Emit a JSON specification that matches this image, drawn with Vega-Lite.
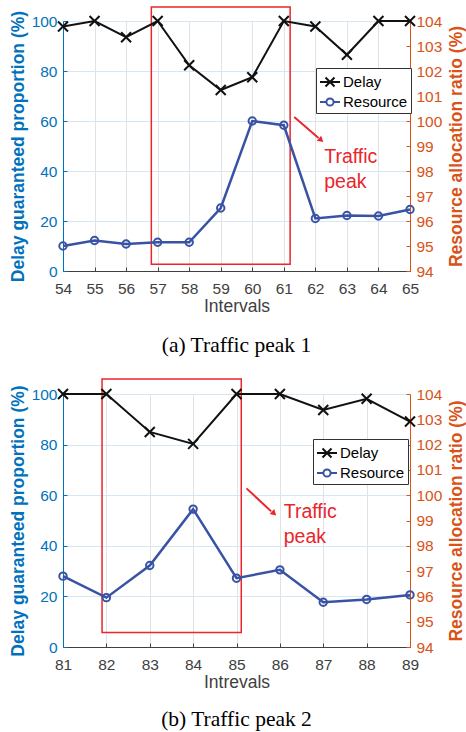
{
  "$schema": "https://vega.github.io/schema/vega-lite/v6.json",
  "padding": {"left": 9, "top": 6, "right": 0, "bottom": 0},
  "background": "white",
  "datasets": {
    "a_lines": [
      {"x": 54, "y": 97.8, "series": "Delay"}, {"x": 55, "y": 100, "series": "Delay"}, {"x": 56, "y": 93.5, "series": "Delay"},
      {"x": 57, "y": 100, "series": "Delay"}, {"x": 58, "y": 82.3, "series": "Delay"}, {"x": 59, "y": 72.4, "series": "Delay"},
      {"x": 60, "y": 77.5, "series": "Delay"}, {"x": 61, "y": 100, "series": "Delay"}, {"x": 62, "y": 97.8, "series": "Delay"},
      {"x": 63, "y": 86.5, "series": "Delay"}, {"x": 64, "y": 100, "series": "Delay"}, {"x": 65, "y": 100, "series": "Delay"},
      {"x": 54, "y": 95.0, "series": "Resource"}, {"x": 55, "y": 95.22, "series": "Resource"}, {"x": 56, "y": 95.08, "series": "Resource"},
      {"x": 57, "y": 95.15, "series": "Resource"}, {"x": 58, "y": 95.15, "series": "Resource"}, {"x": 59, "y": 96.52, "series": "Resource"},
      {"x": 60, "y": 100.0, "series": "Resource"}, {"x": 61, "y": 99.83, "series": "Resource"}, {"x": 62, "y": 96.1, "series": "Resource"},
      {"x": 63, "y": 96.22, "series": "Resource"}, {"x": 64, "y": 96.2, "series": "Resource"}, {"x": 65, "y": 96.46, "series": "Resource"}
    ],
    "a_box": [{"x": 56.8, "x2": 61.2, "y": 2.7, "y2": 105.6}],
    "a_arrow": [{"x": 61.33, "y": 61.6, "x2": 62.1, "y2": 53.2}],
    "a_head": [{"x": 62.16, "y": 52.6}],
    "a_text": [{"x": 62.28, "y": 45.6, "label": "Traffic"}, {"x": 62.28, "y": 35.6, "label": "peak"}],
    "b_lines": [
      {"x": 81, "y": 100, "series": "Delay"}, {"x": 82, "y": 100, "series": "Delay"}, {"x": 83, "y": 85, "series": "Delay"},
      {"x": 84, "y": 80.3, "series": "Delay"}, {"x": 85, "y": 100, "series": "Delay"}, {"x": 86, "y": 100, "series": "Delay"},
      {"x": 87, "y": 93.7, "series": "Delay"}, {"x": 88, "y": 98.1, "series": "Delay"}, {"x": 89, "y": 89.1, "series": "Delay"},
      {"x": 81, "y": 96.8, "series": "Resource"}, {"x": 82, "y": 95.95, "series": "Resource"}, {"x": 83, "y": 97.22, "series": "Resource"},
      {"x": 84, "y": 99.45, "series": "Resource"}, {"x": 85, "y": 96.72, "series": "Resource"}, {"x": 86, "y": 97.05, "series": "Resource"},
      {"x": 87, "y": 95.77, "series": "Resource"}, {"x": 88, "y": 95.88, "series": "Resource"}, {"x": 89, "y": 96.06, "series": "Resource"}
    ],
    "b_box": [{"x": 81.9, "x2": 85.11, "y": 5.7, "y2": 105.9}],
    "b_arrow": [{"x": 85.23, "y": 62.7, "x2": 85.8, "y2": 53.6}],
    "b_head": [{"x": 85.85, "y": 53.0}],
    "b_text": [{"x": 86.09, "y": 53.4, "label": "Traffic"}, {"x": 86.09, "y": 43.5, "label": "peak"}]
  },
  "vconcat": [
    {
      "width": 347,
      "height": 250,
      "title": {"text": "(a)  Traffic peak 1", "orient": "bottom", "anchor": "middle", "font": "Liberation Serif", "fontSize": 21.5, "fontWeight": "normal", "color": "#000000", "offset": 20},
      "encoding": {
        "x": {"field": "x", "type": "quantitative", "scale": {"domain": [54, 65], "nice": false, "zero": false},
          "axis": {"title": "Intervals", "values": [54, 55, 56, 57, 58, 59, 60, 61, 62, 63, 64, 65], "labelColor": "#404040", "titleColor": "#404040", "domainColor": "#404040", "tickColor": "#404040", "gridColor": "#e2e2e2", "titleFontWeight": "normal", "labelPadding": 14, "titlePadding": 1}}
      },
      "layer": [
        {
          "encoding": {
            "y": {"field": "y", "type": "quantitative", "scale": {"domain": [0, 100], "nice": false},
              "axis": {"orient": "left", "title": "Delay guaranteed proportion (%)", "values": [0, 20, 40, 60, 80, 100], "titleColor": "#0072BD", "labelColor": "#0072BD", "domainColor": "#0072BD", "tickColor": "#0072BD", "gridColor": "#d5e7f5", "titleFontWeight": "bold", "labelPadding": 10, "titlePadding": 4}}
          },
          "layer": [
            {
              "data": {"name": "a_box"},
              "mark": {"type": "rect", "filled": false, "stroke": "#E8262B", "strokeWidth": 1.5, "clip": false},
              "encoding": {"x2": {"field": "x2"}, "y2": {"field": "y2"}}
            },
            {
              "data": {"name": "a_lines"},
              "transform": [{"filter": "datum.series === 'Delay'"}],
              "mark": {"type": "line", "strokeWidth": 2},
              "encoding": {
                "color": {"field": "series", "type": "nominal", "scale": {"domain": ["Delay", "Resource"], "range": ["#111111", "#3953A4"]},
                  "legend": {"orient": "none", "legendX": 253, "legendY": 47, "title": null,
                    "encode": {"symbols": {"update": {"shape": {"signal": "datum.value === 'Delay' ? 'M-0.45,-0.45L0.45,0.45M-0.45,0.45L0.45,-0.45M-1,0L1,0' : 'M-1,0L-0.36,0M0.36,0L1,0M-0.36,0A0.36,0.36,0,1,1,0.36,0A0.36,0.36,0,1,1,-0.36,0'"}, "fill": {"value": "transparent"}}}}}}
              }
            },
            {
              "data": {"name": "a_lines"},
              "transform": [{"filter": "datum.series === 'Delay'"}],
              "mark": {"type": "point", "shape": "M-1,-1L1,1M-1,1L1,-1", "filled": false, "stroke": "#111111", "strokeWidth": 2, "size": 100, "opacity": 1}
            },
            {
              "data": {"name": "a_arrow"},
              "mark": {"type": "rule", "color": "#E8262B", "strokeWidth": 2},
              "encoding": {"x2": {"field": "x2"}, "y2": {"field": "y2"}}
            },
            {
              "data": {"name": "a_head"},
              "mark": {"type": "point", "shape": "triangle", "filled": true, "color": "#E8262B", "size": 45, "angle": 131, "opacity": 1}
            },
            {
              "data": {"name": "a_text"},
              "mark": {"type": "text", "align": "left", "baseline": "middle", "font": "Liberation Sans", "fontSize": 19.5, "color": "#E8262B"},
              "encoding": {"text": {"field": "label"}}
            }
          ]
        },
        {
          "encoding": {
            "y": {"field": "y", "type": "quantitative", "scale": {"domain": [94, 104], "nice": false, "zero": false},
              "axis": {"orient": "right", "title": "Resource allocation ratio (%)", "titleAngle": 270, "titleBaseline": "top", "values": [94, 95, 96, 97, 98, 99, 100, 101, 102, 103, 104], "grid": false, "titleColor": "#D95319", "labelColor": "#D95319", "domainColor": "#D95319", "tickColor": "#D95319", "titleFontWeight": "bold", "labelPadding": 10, "titlePadding": 6}}
          },
          "layer": [
            {
              "data": {"name": "a_lines"},
              "transform": [{"filter": "datum.series === 'Resource'"}],
              "mark": {"type": "line", "strokeWidth": 2.5},
              "encoding": {
                "color": {"field": "series", "type": "nominal", "scale": {"domain": ["Delay", "Resource"], "range": ["#111111", "#3953A4"]},
                  "legend": {"orient": "none", "legendX": 253, "legendY": 47, "title": null,
                    "encode": {"symbols": {"update": {"shape": {"signal": "datum.value === 'Delay' ? 'M-0.45,-0.45L0.45,0.45M-0.45,0.45L0.45,-0.45M-1,0L1,0' : 'M-1,0L-0.36,0M0.36,0L1,0M-0.36,0A0.36,0.36,0,1,1,0.36,0A0.36,0.36,0,1,1,-0.36,0'"}, "fill": {"value": "transparent"}}}}}}
              }
            },
            {
              "data": {"name": "a_lines"},
              "transform": [{"filter": "datum.series === 'Resource'"}],
              "mark": {"type": "point", "shape": "circle", "filled": false, "stroke": "#3953A4", "strokeWidth": 2, "size": 55, "opacity": 1}
            }
          ]
        }
      ],
      "resolve": {"scale": {"y": "independent"}}
    },
    {
      "width": 347,
      "height": 253,
      "title": {"text": "(b)  Traffic peak 2", "orient": "bottom", "anchor": "middle", "font": "Liberation Serif", "fontSize": 21.5, "fontWeight": "normal", "color": "#000000", "offset": 18},
      "encoding": {
        "x": {"field": "x", "type": "quantitative", "scale": {"domain": [81, 89], "nice": false, "zero": false},
          "axis": {"title": "Intrevals", "values": [81, 82, 83, 84, 85, 86, 87, 88, 89], "labelColor": "#404040", "titleColor": "#404040", "domainColor": "#404040", "tickColor": "#404040", "gridColor": "#e2e2e2", "titleFontWeight": "normal", "labelPadding": 14, "titlePadding": 1}}
      },
      "layer": [
        {
          "encoding": {
            "y": {"field": "y", "type": "quantitative", "scale": {"domain": [0, 100], "nice": false},
              "axis": {"orient": "left", "title": "Delay guaranteed proportion (%)", "values": [0, 20, 40, 60, 80, 100], "titleColor": "#0072BD", "labelColor": "#0072BD", "domainColor": "#0072BD", "tickColor": "#0072BD", "gridColor": "#d5e7f5", "titleFontWeight": "bold", "labelPadding": 10, "titlePadding": 4}}
          },
          "layer": [
            {
              "data": {"name": "b_box"},
              "mark": {"type": "rect", "filled": false, "stroke": "#E8262B", "strokeWidth": 1.5, "clip": false},
              "encoding": {"x2": {"field": "x2"}, "y2": {"field": "y2"}}
            },
            {
              "data": {"name": "b_lines"},
              "transform": [{"filter": "datum.series === 'Delay'"}],
              "mark": {"type": "line", "strokeWidth": 2},
              "encoding": {
                "color": {"field": "series", "type": "nominal", "scale": {"domain": ["Delay", "Resource"], "range": ["#111111", "#3953A4"]},
                  "legend": {"orient": "none", "legendX": 250, "legendY": 45, "title": null,
                    "encode": {"symbols": {"update": {"shape": {"signal": "datum.value === 'Delay' ? 'M-0.45,-0.45L0.45,0.45M-0.45,0.45L0.45,-0.45M-1,0L1,0' : 'M-1,0L-0.36,0M0.36,0L1,0M-0.36,0A0.36,0.36,0,1,1,0.36,0A0.36,0.36,0,1,1,-0.36,0'"}, "fill": {"value": "transparent"}}}}}}
              }
            },
            {
              "data": {"name": "b_lines"},
              "transform": [{"filter": "datum.series === 'Delay'"}],
              "mark": {"type": "point", "shape": "M-1,-1L1,1M-1,1L1,-1", "filled": false, "stroke": "#111111", "strokeWidth": 2, "size": 100, "opacity": 1}
            },
            {
              "data": {"name": "b_arrow"},
              "mark": {"type": "rule", "color": "#E8262B", "strokeWidth": 2},
              "encoding": {"x2": {"field": "x2"}, "y2": {"field": "y2"}}
            },
            {
              "data": {"name": "b_head"},
              "mark": {"type": "point", "shape": "triangle", "filled": true, "color": "#E8262B", "size": 45, "angle": 132, "opacity": 1}
            },
            {
              "data": {"name": "b_text"},
              "mark": {"type": "text", "align": "left", "baseline": "middle", "font": "Liberation Sans", "fontSize": 19.5, "color": "#E8262B"},
              "encoding": {"text": {"field": "label"}}
            }
          ]
        },
        {
          "encoding": {
            "y": {"field": "y", "type": "quantitative", "scale": {"domain": [94, 104], "nice": false, "zero": false},
              "axis": {"orient": "right", "title": "Resource allocation ratio (%)", "titleAngle": 270, "titleBaseline": "top", "values": [94, 95, 96, 97, 98, 99, 100, 101, 102, 103, 104], "grid": false, "titleColor": "#D95319", "labelColor": "#D95319", "domainColor": "#D95319", "tickColor": "#D95319", "titleFontWeight": "bold", "labelPadding": 10, "titlePadding": 6}}
          },
          "layer": [
            {
              "data": {"name": "b_lines"},
              "transform": [{"filter": "datum.series === 'Resource'"}],
              "mark": {"type": "line", "strokeWidth": 2.5},
              "encoding": {
                "color": {"field": "series", "type": "nominal", "scale": {"domain": ["Delay", "Resource"], "range": ["#111111", "#3953A4"]},
                  "legend": {"orient": "none", "legendX": 250, "legendY": 45, "title": null,
                    "encode": {"symbols": {"update": {"shape": {"signal": "datum.value === 'Delay' ? 'M-0.45,-0.45L0.45,0.45M-0.45,0.45L0.45,-0.45M-1,0L1,0' : 'M-1,0L-0.36,0M0.36,0L1,0M-0.36,0A0.36,0.36,0,1,1,0.36,0A0.36,0.36,0,1,1,-0.36,0'"}, "fill": {"value": "transparent"}}}}}}
              }
            },
            {
              "data": {"name": "b_lines"},
              "transform": [{"filter": "datum.series === 'Resource'"}],
              "mark": {"type": "point", "shape": "circle", "filled": false, "stroke": "#3953A4", "strokeWidth": 2, "size": 55, "opacity": 1}
            }
          ]
        }
      ],
      "resolve": {"scale": {"y": "independent"}}
    }
  ],
  "spacing": 21,
  "resolve": {"scale": {"color": "independent"}, "legend": {"color": "independent"}},
  "config": {
    "view": {"stroke": null},
    "font": "Liberation Sans",
    "axis": {"labelFont": "Liberation Sans", "titleFont": "Liberation Sans", "labelFontSize": 15.5, "titleFontSize": 17.5, "grid": true, "tickSize": -4, "domainWidth": 1, "labelFlush": false, "labelOverlap": false},
    "legend": {"strokeColor": "#333333", "fillColor": "white", "padding": 3, "labelFont": "Liberation Sans", "labelFontSize": 15, "labelColor": "#000000", "symbolSize": 400, "symbolStrokeWidth": 2, "labelOffset": 2, "rowPadding": 0, "symbolType": "circle"}
  }
}
